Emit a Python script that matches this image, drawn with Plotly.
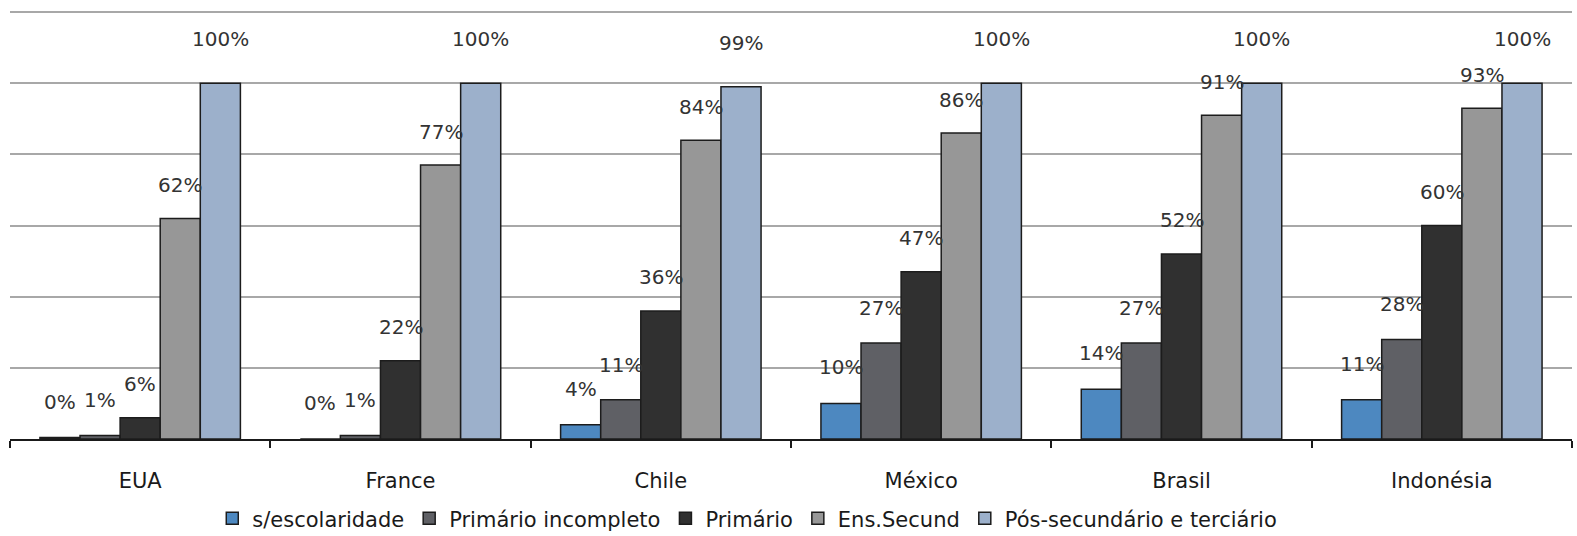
import plotly.graph_objects as go

# ---- data ----
categories = ["EUA", "France", "Chile", "México", "Brasil", "Indonésia"]
series_names = ["s/escolaridade", "Primário incompleto", "Primário", "Ens.Secund", "Pós-secundário e terciário"]
s_escolaridade = [0.4, 0, 4, 10, 14, 11]
primario_incompleto = [1, 1, 11, 27, 27, 28]
primario = [6, 22, 36, 47, 52, 60]
ens_secund = [62, 77, 84, 86, 91, 93]
pos_secundario = [100, 100, 99, 100, 100, 100]
series_values = [s_escolaridade, primario_incompleto, primario, ens_secund, pos_secundario]

# ---- style ----
colors = ["#4D88C0", "#5F6065", "#303030", "#979797", "#9CB0CB"]
label_shift = [36, 35, 34, 33, 44]
W, H = 1577, 536
margin = dict(l=10, r=5, t=11, b=97, autoexpand=False)
bargap = 0.23
font_family = "DejaVu Sans"

cat_px = (W - margin["l"] - margin["r"]) / len(categories)
bar_px = cat_px * (1 - bargap) / len(series_values)

fig = go.Figure()
for name, vals, col in zip(series_names, series_values, colors):
    fig.add_trace(go.Bar(
        name=name, x=categories, y=vals,
        marker=dict(color=col, line=dict(color="#1c1c1c", width=1.5)),
        hoverinfo="x+y",
    ))

annotations = []
n = len(series_values)
for i, vals in enumerate(series_values):
    for cat, v in zip(categories, vals):
        annotations.append(dict(
            x=cat, y=v, xref="x", yref="y",
            text=f"{v:.0f}%", showarrow=False,
            xshift=(i - (n - 1) / 2) * bar_px, yshift=label_shift[i],
            yanchor="middle", xanchor="center",
            font=dict(family=font_family, size=20, color="#333333"),
        ))

fig.update_layout(
    width=W, height=H, margin=margin,
    barmode="group", bargap=bargap, bargroupgap=0,
    plot_bgcolor="white", paper_bgcolor="white",
    font=dict(family=font_family, size=21, color="#1a1a1a"),
    annotations=annotations,
    showlegend=True,
    legend=dict(orientation="h", x=0.1295, xanchor="left", y=-0.234, yanchor="bottom",
                font=dict(family=font_family, size=21, color="#1a1a1a"),
                itemclick=False, traceorder="normal", bgcolor="rgba(0,0,0,0)"),
    xaxis=dict(type="category", range=[-0.5, 5.5], tickson="boundaries",
               ticks="outside", ticklen=7, tickwidth=1.5, tickcolor="#1a1a1a",
               showline=True, linecolor="#1a1a1a", linewidth=1.5,
               showgrid=False, ticklabelstandoff=22, automargin=False,
               tickfont=dict(family=font_family, size=21, color="#1a1a1a")),
    yaxis=dict(range=[0, 120.3], tickvals=[20, 40, 60, 80, 100, 120], showgrid=True,
               gridcolor="#A8A8A8", automargin=False,
               gridwidth=1.5, showticklabels=False, zeroline=False, showline=False,
               ticks=""),
)

fig.write_html("out.html")
